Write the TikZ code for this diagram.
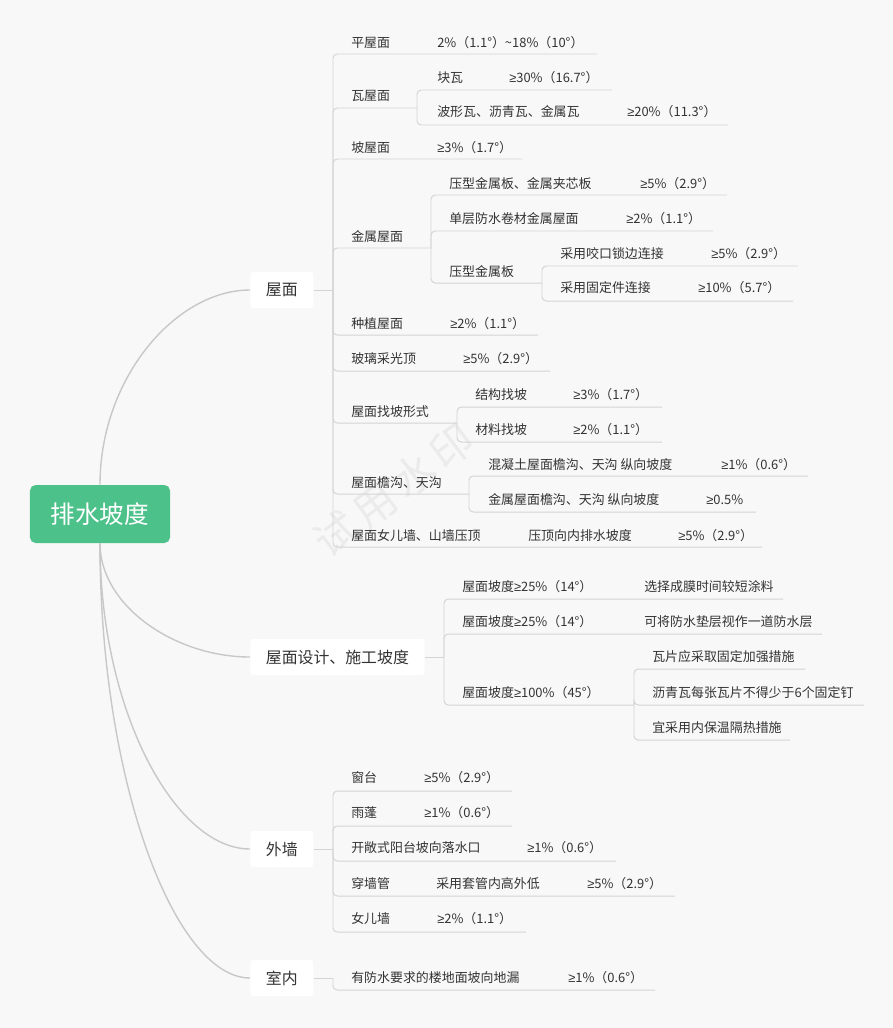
\documentclass[tikz,border=0pt]{standalone}
\usepackage{fontspec}
\setmainfont{Noto Sans CJK SC}
\newfontfamily\symfont{Liberation Sans}
\newcommand\geqs{{\symfont ≥}}

\definecolor{rootgreen}{HTML}{4DC18A}
\definecolor{paper}{HTML}{F8F8F8}
\definecolor{curvegray}{HTML}{C8C8C8}
\definecolor{linegray}{HTML}{D4D4D4}
\definecolor{ink}{HTML}{333333}

\begin{document}
\begin{tikzpicture}[x=0.025cm, y=-0.025cm,
    root/.style={fill=rootgreen, rounded corners=4pt, text=white, font=\fontsize{17.5}{20}\selectfont, minimum width=3.5cm, minimum height=1.45cm},
    topic/.style={fill=white, rounded corners=2pt, text=ink, font=\fontsize{11.3}{13}\selectfont, anchor=west, minimum height=0.9cm, inner xsep=0.39cm},
    leaf/.style={anchor=west, inner sep=0pt, text=ink, font=\fontsize{9.2}{11}\selectfont},
    curve/.style={draw=curvegray, line width=1pt},
    branch/.style={draw=linegray, line width=0.7pt, rounded corners=3pt},
    watermark/.style={text=black!8, font=\fontsize{30}{32}\selectfont, rotate=37}]
    \fill[paper] (0,0) rectangle (893,1028);
    \useasboundingbox (0,0) rectangle (893,1028);
    \node[watermark] (stamp) at (394,490) {试\hspace{0.15em}用\hspace{0.15em}水\hspace{0.15em}印};

    % Nodes
    \node[root] (main) at (100,514) {排水坡度};
    \node[topic] (roof) at (250,290) {屋面};
    \node[topic] (design) at (250,657) {屋面设计、施工坡度};
    \node[topic] (wall) at (250,849) {外墙};
    \node[topic] (indoor) at (250,978) {室内};
    \coordinate (roofj) at (333,290);
    \coordinate (designj) at (444,657);
    \coordinate (wallj) at (333,849);
    \coordinate (indoorj) at (333,978);

    % roof
    \node[leaf] (flat) at (351,43) {平屋面};
    \node[leaf] (flatv) at (437,43) {2\%（1.1°）\textasciitilde18\%（10°）};
    \coordinate (flate) at (597,54);
    \node[leaf] (tile) at (351,96) {瓦屋面};
    \coordinate (tilee) at (417,108);
    \node[leaf] (tilea) at (437,78) {块瓦};
    \node[leaf] (tileav) at (509,78) {\geqs30\%（16.7°）};
    \coordinate (tileae) at (612,90);
    \node[leaf] (tileb) at (437,112) {波形瓦、沥青瓦、金属瓦};
    \node[leaf] (tilebv) at (627,112) {\geqs20\%（11.3°）};
    \coordinate (tilebe) at (728,125);
    \node[leaf] (pitch) at (351,148) {坡屋面};
    \node[leaf] (pitchv) at (437,148) {\geqs3\%（1.7°）};
    \coordinate (pitche) at (522,159);
    \node[leaf] (metal) at (351,237) {金属屋面};
    \coordinate (metale) at (431,248);
    \node[leaf] (metala) at (449,184) {压型金属板、金属夹芯板};
    \node[leaf] (metalav) at (640,184) {\geqs5\%（2.9°）};
    \coordinate (metalae) at (727,195);
    \node[leaf] (metalb) at (449,219) {单层防水卷材金属屋面};
    \node[leaf] (metalbv) at (626,219) {\geqs2\%（1.1°）};
    \coordinate (metalbe) at (713,231);
    \node[leaf] (sheet) at (449,272) {压型金属板};
    \coordinate (sheete) at (542,283);
    \node[leaf] (sheeta) at (560,254) {采用咬口锁边连接};
    \node[leaf] (sheetav) at (711,254) {\geqs5\%（2.9°）};
    \coordinate (sheetae) at (798,266);
    \node[leaf] (sheetb) at (560,288) {采用固定件连接};
    \node[leaf] (sheetbv) at (698,288) {\geqs10\%（5.7°）};
    \coordinate (sheetbe) at (793,301);
    \node[leaf] (green) at (351,324) {种植屋面};
    \node[leaf] (greenv) at (450,324) {\geqs2\%（1.1°）};
    \coordinate (greene) at (538,335);
    \node[leaf] (glass) at (351,359) {玻璃采光顶};
    \node[leaf] (glassv) at (463,359) {\geqs5\%（2.9°）};
    \coordinate (glasse) at (550,371);
    \node[leaf] (fall) at (351,412) {屋面找坡形式};
    \coordinate (falle) at (457,423);
    \node[leaf] (falla) at (475,395) {结构找坡};
    \node[leaf] (fallav) at (573,395) {\geqs3\%（1.7°）};
    \coordinate (fallae) at (662,407);
    \node[leaf] (fallb) at (475,430) {材料找坡};
    \node[leaf] (fallbv) at (573,430) {\geqs2\%（1.1°）};
    \coordinate (fallbe) at (662,442);
    \node[leaf] (gutter) at (351,483) {屋面檐沟、天沟};
    \coordinate (guttere) at (469,494);
    \node[leaf] (guttera) at (488,465) {混凝土屋面檐沟、天沟 纵向坡度};
    \node[leaf] (gutterav) at (721,465) {\geqs1\%（0.6°）};
    \coordinate (gutterae) at (808,476);
    \node[leaf] (gutterb) at (488,500) {金属屋面檐沟、天沟 纵向坡度};
    \node[leaf] (gutterbv) at (706,500) {\geqs0.5\%};
    \coordinate (gutterbe) at (756,512);
    \node[leaf] (coping) at (351,536) {屋面女儿墙、山墙压顶};
    \node[leaf] (copingm) at (528,536) {压顶向内排水坡度};
    \node[leaf] (copingv) at (678,536) {\geqs5\%（2.9°）};
    \coordinate (copinge) at (762,547);

    % design
    \node[leaf] (coat) at (462,587) {屋面坡度\geqs25\%（14°）};
    \node[leaf] (coatm) at (644,587) {选择成膜时间较短涂料};
    \coordinate (coate) at (783,599);
    \node[leaf] (under) at (462,622) {屋面坡度\geqs25\%（14°）};
    \node[leaf] (underm) at (644,622) {可将防水垫层视作一道防水层};
    \coordinate (undere) at (822,634);
    \node[leaf] (steep) at (462,693) {屋面坡度\geqs100\%（45°）};
    \coordinate (steepe) at (634,705);
    \node[leaf] (steepa) at (652,657) {瓦片应采取固定加强措施};
    \coordinate (steepae) at (805,669);
    \node[leaf] (steepb) at (652,693) {沥青瓦每张瓦片不得少于6个固定钉};
    \coordinate (steepbe) at (864,705);
    \node[leaf] (steepc) at (652,728) {宜采用内保温隔热措施};
    \coordinate (steepce) at (790,740);

    % wall
    \node[leaf] (sill) at (351,778) {窗台};
    \node[leaf] (sillv) at (424,778) {\geqs5\%（2.9°）};
    \coordinate (sille) at (512,791);
    \node[leaf] (canopy) at (351,813) {雨蓬};
    \node[leaf] (canopyv) at (424,813) {\geqs1\%（0.6°）};
    \coordinate (canopye) at (512,826);
    \node[leaf] (balcony) at (351,848) {开敞式阳台坡向落水口};
    \node[leaf] (balconyv) at (527,848) {\geqs1\%（0.6°）};
    \coordinate (balconye) at (616,861);
    \node[leaf] (pipe) at (351,884) {穿墙管};
    \node[leaf] (pipem) at (436,884) {采用套管内高外低};
    \node[leaf] (pipev) at (587,884) {\geqs5\%（2.9°）};
    \coordinate (pipee) at (675,896);
    \node[leaf] (parapet) at (351,919) {女儿墙};
    \node[leaf] (parapetv) at (437,919) {\geqs2\%（1.1°）};
    \coordinate (parapete) at (526,932);

    % indoor
    \node[leaf] (drain) at (351,978) {有防水要求的楼地面坡向地漏};
    \node[leaf] (drainv) at (568,978) {\geqs1\%（0.6°）};
    \coordinate (draine) at (655,990);

    % Lines
    \draw[curve] (main.north) .. controls (100,378) and (176,290) .. (roof.west);
    \draw[curve] (main.south) .. controls (100,606) and (175,657) .. (design.west);
    \draw[curve] (main.south) .. controls (100,711) and (175,849) .. (wall.west);
    \draw[curve] (main.south) .. controls (100,782) and (175,978) .. (indoor.west);

    \draw[branch] (roof.east) -- (roofj);
    \draw[branch] (design.east) -- (designj);
    \draw[branch] (wall.east) -- (wallj);
    \draw[branch] (indoor.east) -- (indoorj);

    \foreach \e in {flate, tilee, pitche, metale, greene, glasse, falle, guttere, copinge}
        \draw[branch] (roofj) |- (\e);
    \draw[branch] (tilee) |- (tileae);
    \draw[branch] (tilee) |- (tilebe);
    \draw[branch] (metale) |- (metalae);
    \draw[branch] (metale) |- (metalbe);
    \draw[branch] (metale) |- (sheete);
    \draw[branch] (sheete) |- (sheetae);
    \draw[branch] (sheete) |- (sheetbe);
    \draw[branch] (falle) |- (fallae);
    \draw[branch] (falle) |- (fallbe);
    \draw[branch] (guttere) |- (gutterae);
    \draw[branch] (guttere) |- (gutterbe);

    \foreach \e in {coate, undere, steepe}
        \draw[branch] (designj) |- (\e);
    \foreach \e in {steepae, steepbe, steepce}
        \draw[branch] (steepe) |- (\e);

    \foreach \e in {sille, canopye, balconye, pipee, parapete}
        \draw[branch] (wallj) |- (\e);
    \draw[branch] (indoorj) |- (draine);
\end{tikzpicture}
\end{document}
